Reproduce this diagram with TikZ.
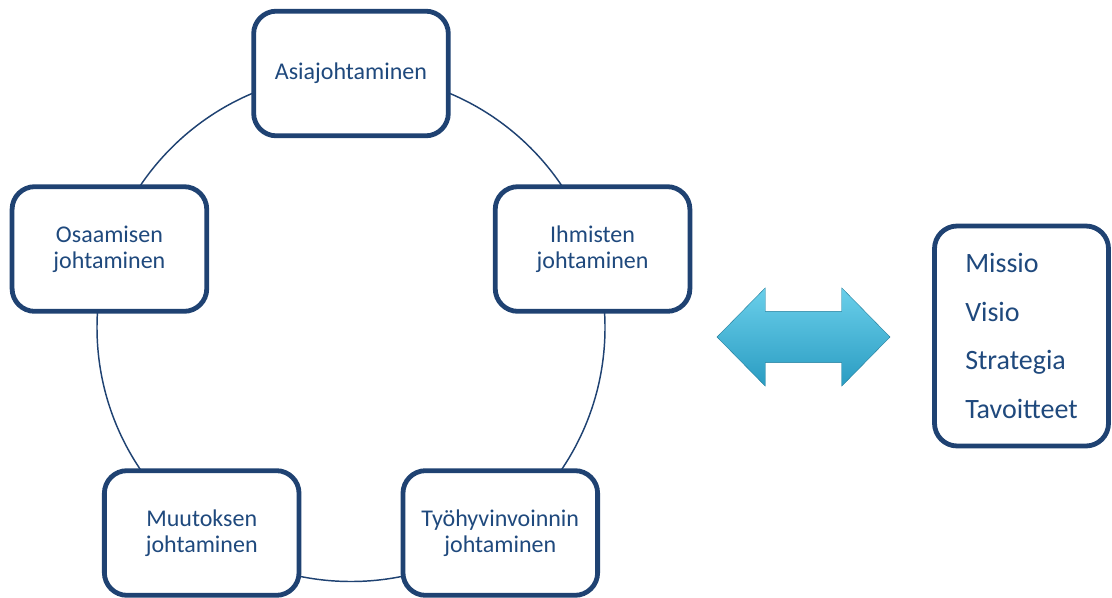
\documentclass[tikz,border=0pt]{standalone}
\usepackage{fontspec}
\setmainfont{Carlito}
\usetikzlibrary{shapes.arrows, calc}

\definecolor{framecol}{HTML}{1F4272}
\definecolor{textcol}{HTML}{1F497D}
\definecolor{arrowtop}{HTML}{6ACFEA}
\definecolor{arrowbot}{HTML}{2A9CC2}

\begin{document}
\begin{tikzpicture}[
    x=0.75pt, y=0.75pt,
    every node/.style={font=\fontsize{18}{19.5}\selectfont, text=textcol},
    box/.style={
        rectangle,
        rounded corners=17pt,
        draw=framecol,
        fill=white,
        minimum width=146pt,
        minimum height=93.5pt,
        align=center,
        line width=3.6pt
    },
    listbox/.style={box, minimum width=130.5pt, minimum height=165pt, align=left,
        font=\fontsize{21}{36.5}\selectfont},
    ring/.style={draw=framecol, line width=1.1pt},
    bigarrow/.style={
        double arrow,
        double arrow tip angle=91,
        double arrow head extend=17.6pt,
        minimum height=129.75pt,
        inner xsep=0pt,
        inner ysep=19.1pt,
        top color=arrowtop,
        bottom color=arrowbot,
        draw=arrowbot!80!black, line width=0.3pt
    }
]
\useasboundingbox (0,0) rectangle (1112,597);

% ==================== CYCLE ====================
\coordinate (centre) at (351,269.5);
\draw[ring] (centre) circle[radius=190.5pt];

\node[box] (asia) at ($(centre)+(90:190.5pt)$) {Asiajohtaminen};
\node[box] (ihmiset) at ($(centre)+(18:190.5pt)$) {Ihmisten\\johtaminen};
\node[box] (tyohyv) at ($(centre)+(-54:190.5pt)$) {Työhyvinvoinnin\\johtaminen};
\node[box] (muutos) at ($(centre)+(-126:190.5pt)$) {Muutoksen\\johtaminen};
\node[box] (osaaminen) at ($(centre)+(162:190.5pt)$) {Osaamisen\\johtaminen};

% ==================== STRATEGY ====================
\node[bigarrow] (link) at (803.5,260) {};
\node[listbox] (strategy) at (1021.5,261) {Missio\\Visio\\Strategia\\Tavoitteet};

\end{tikzpicture}
\end{document}
